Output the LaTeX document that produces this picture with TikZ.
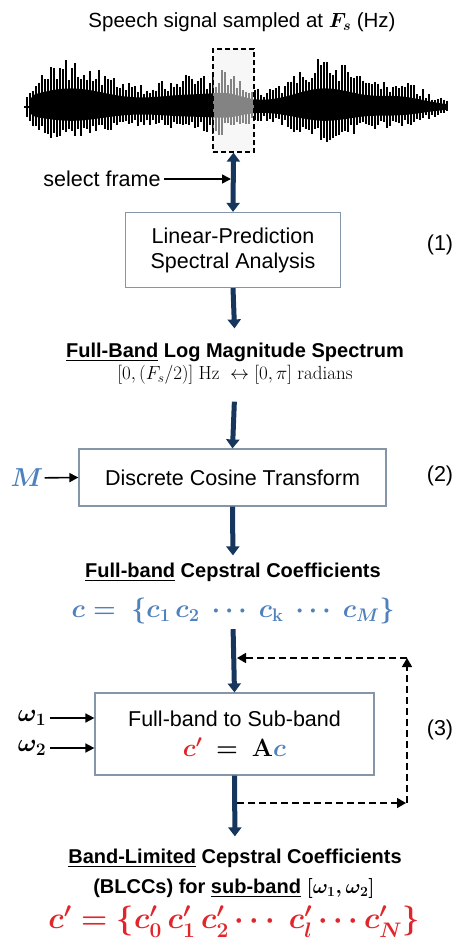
\RequirePackage{fix-cm}
\documentclass[tikz,border=0pt]{standalone}
\usepackage{amsmath}
\usepackage{fontspec}
\setmainfont{Liberation Sans}
\newfontfamily\lmfont{Latin Modern Roman}
\usetikzlibrary{arrows.meta}
\definecolor{navy}{HTML}{17365D}
\definecolor{cblue}{HTML}{4F81BD}
\definecolor{cred}{HTML}{E0262B}
\definecolor{boxline}{HTML}{8596A8}
\newcommand{\rmtxt}[1]{\text{\lmfont #1}}
\newcommand{\bftxt}[1]{\text{\lmfont\bfseries #1}}
\tikzset{
  blockbox/.style={draw=boxline,line width=1.2pt,fill=white,align=center,inner sep=0pt},
  flow/.style={line width=5pt,navy,-{Triangle[width=13pt,length=9pt]}},
  feed/.style={line width=1.6pt,dash pattern=on 7pt off 4pt,-{Triangle[width=10pt,length=9pt]}},
  inarrow/.style={line width=1.6pt,-{Triangle[width=9pt,length=9pt]}},
  boldlbl/.style={font=\bfseries\fontsize{20}{24}\selectfont,inner sep=1pt},
  mathlbl/.style={font=\fontsize{26}{30}\selectfont,inner sep=1pt}
}
\begin{document}
\begin{tikzpicture}[x=1pt,y=-1pt,every node/.style={font=\fontsize{21.5}{25}\selectfont},
  declare function={envl(\t)=min(1,(\t-22)/12)*(4+42*exp(-((\t-70)/55)*((\t-70)/55))+27*exp(-((\t-195)/60)*((\t-195)/60))+10*exp(-((\t-228)/20)*((\t-228)/20))+42*exp(-((\t-325)/45)*((\t-325)/45))+20*exp(-((\t-400)/35)*((\t-400)/35)));}]
\useasboundingbox (0,0) rectangle (462,945);
\node[font=\fontsize{20.5}{24}\selectfont] (title) at (242,22) {Speech signal sampled at $\boldsymbol{F_s}$ (Hz)};
% speech waveform
\pgfmathsetseed{11}
\draw[line width=1.2pt] (24,107) -- (448,107);
\fill[black] plot[domain=30:446,samples=120] (\x,{107-0.4*envl(\x)}) -- plot[domain=446:30,samples=120] (\x,{107+0.4*(0.7*envl(\x)+2)}) -- cycle;
\foreach \x in {27,30,...,447} {
  \pgfmathsetmacro{\hup}{envl(\x)*(0.55+0.5*rnd)}
  \pgfmathsetmacro{\hlo}{(0.7*envl(\x)+2)*(0.6+0.45*rnd)}
  \draw[line width=1.8pt] (\x,107-\hup) -- (\x,107+\hlo);
}
\node[draw,line width=1.3pt,dash pattern=on 5pt off 3pt,fill=white!94!black,fill opacity=0.55,draw opacity=1,minimum width=41pt,minimum height=103pt,inner sep=0pt] (frame) at (233.5,100.5) {};
% stage 1
\node (sel) at (102,179) {select frame};
\node[blockbox,minimum width=215pt,minimum height=75pt] (lpc) at (233,250) {Linear-Prediction\\Spectral Analysis};
\node (n1) at (440,245) {(1)};
\node[boldlbl] (fbl) at (235,352) {\underline{Full-Band} Log Magnitude Spectrum};
\node[font=\fontsize{19}{22}\selectfont,inner sep=1pt] (rng) at (235,375) {$[0,(F_s/2)]\ \rmtxt{Hz}\ \leftrightarrow[0,\pi]\ \rmtxt{radians}$};
% stage 2
\node[blockbox,minimum width=307pt,minimum height=57pt] (dct) at (232.5,477.5) {Discrete Cosine Transform};
\node[mathlbl] (order) at (27,478) {$\color{cblue}\boldsymbol{M}$};
\node (n2) at (440,476) {(2)};
\node[boldlbl] (fbc) at (233,572) {\underline{Full-band} Cepstral Coefficients};
\node[mathlbl] (cvec) at (233,611) {$\color{cblue}\boldsymbol{c=\ \{c_1\,c_2\ \cdots\ c_{\bftxt{k}}\ \cdots\ c_M\}}$};
% stage 3
\node[blockbox,minimum width=279pt,minimum height=82pt] (sub) at (234.5,734) {Full-band to Sub-band\\[5pt]{\fontsize{25}{28}\selectfont$\boldsymbol{\color{cred}c'}\ \boldsymbol{=}\ \bftxt{A}\boldsymbol{\color{cblue}c}$}};
\node[font=\fontsize{25}{28}\selectfont] (w1) at (32,718) {$\boldsymbol{\omega_1}$};
\node[font=\fontsize{25}{28}\selectfont] (w2) at (32,748) {$\boldsymbol{\omega_2}$};
\node (n3) at (440,730) {(3)};
\node[boldlbl] (blc) at (235,858) {\underline{Band-Limited} Cepstral Coefficients};
\node[boldlbl] (blcc) at (234,888) {(BLCCs) for \underline{sub-band} $\boldsymbol{[\omega_1,\omega_2]}$};
\node[mathlbl,font=\fontsize{30}{33}\selectfont] (cpr) at (234,922) {$\color{cred}\boldsymbol{c'=\{c'_0\,c'_1\,c'_2\cdots\ c'_l\cdots c'_N\}}$};
% arrows
\draw[flow,{Triangle[width=13pt,length=9pt]}-{Triangle[width=13pt,length=9pt]}] (frame.south) -- (lpc.north);
\draw[inarrow,shorten >=2.5pt] (sel.east) -- (sel.east -| frame.south);
\draw[flow,shorten >=13pt] (lpc.south) -- (fbl.north);
\draw[flow,shorten <=16pt] (rng.south) -- (dct.north);
\draw[inarrow] (order) -- (dct.west);
\draw[flow,shorten >=6pt] (dct.south) -- (fbc.north);
\draw[flow,shorten <=4pt] (cvec.south) -- (sub.north);
\draw[inarrow] (w1) -- (w1 -| sub.west);
\draw[inarrow] (w2) -- (w2 -| sub.west);
\draw[flow,shorten >=11pt] (sub.south) -- (blc.north);
% feedback loop
\coordinate (fbtop) at (407,658);
\coordinate (fbbot) at (407,803);
\draw[feed,shorten <=2.5pt,shorten >=1pt] (fbbot -| sub.south) -- (fbbot);
\draw[feed] (fbbot) -- (fbtop);
\draw[feed,shorten >=2.5pt] (fbtop) -- (fbtop -| sub.north);
\end{tikzpicture}
\end{document}
